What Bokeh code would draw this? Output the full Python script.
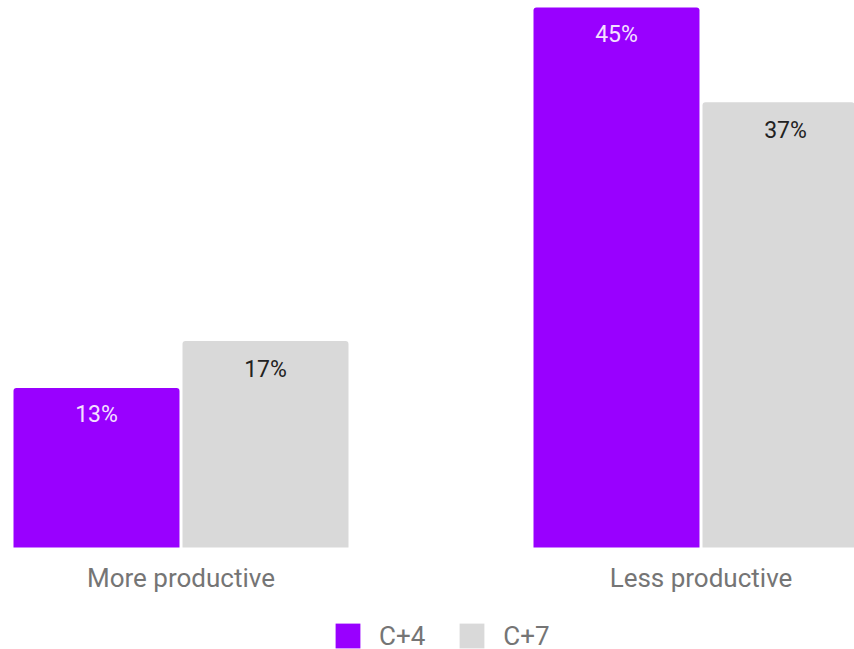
from bokeh.plotting import figure
from bokeh.models import ColumnDataSource, Range1d, Legend, LegendItem
from bokeh.transform import dodge
from bokeh.core.properties import value
from bokeh.embed import file_html
from bokeh.resources import INLINE

# ---- data ----
categories = ["More productive", "Less productive"]
series_names = ["C+4", "C+7"]
c4_values = [13.3, 45]
c7_values = [17.2, 37.1]
c4_labels = ["13%", "45%"]
c7_labels = ["17%", "37%"]

positions = list(range(len(categories)))
src = ColumnDataSource(dict(
    x=positions,
    cat=categories,
    base=[0] * len(categories),
    c4=c4_values,
    c7=c7_values,
    c4_label=c4_labels,
    c7_label=c7_labels,
))

PURPLE = "#9900ff"
GREY = "#d9d9d9"
FONT = "Roboto"

p = figure(width=854, height=649, output_backend="svg", toolbar_location=None,
           x_range=Range1d(-0.3471, 1.2952), y_range=Range1d(-8.5, 45.58),
           x_axis_location=None, y_axis_location=None,
           min_border_left=0, min_border_right=0, min_border_top=0,
           min_border_bottom=0)
p.outline_line_color = None
p.xgrid.visible = False
p.ygrid.visible = False
p.background_fill_color = "white"
p.border_fill_color = "white"

OFF = 0.1625
W = 0.3192
r1 = p.vbar(x=dodge("x", -OFF), top="c4", width=W, source=src,
            fill_color=PURPLE, line_color=None, border_radius=(3, 3, 0, 0))
r2 = p.vbar(x=dodge("x", OFF), top="c7", width=W, source=src,
            fill_color=GREY, line_color=None, border_radius=(3, 3, 0, 0))

p.text(x=dodge("x", -OFF), y="c4", text="c4_label", source=src,
       text_align="center", text_baseline="middle", y_offset=27,
       text_font=value(FONT), text_font_size="23px", text_color="#f4e0ff")
p.text(x=dodge("x", OFF), y="c7", text="c7_label", source=src,
       text_align="center", text_baseline="middle", y_offset=28,
       text_font=value(FONT), text_font_size="23px", text_color="#222222")

# category labels under each group
p.text(x="x", y="base", text="cat", source=src,
       text_align="center", text_baseline="middle", y_offset=31,
       text_font=value(FONT), text_font_size="26px", text_color="#757575")

legend = Legend(items=[LegendItem(label=series_names[0], renderers=[r1]),
                       LegendItem(label=series_names[1], renderers=[r2])],
                orientation="horizontal", location=(332, -2),
                glyph_width=31, glyph_height=31, label_height=31,
                label_standoff=16, spacing=31, padding=0, margin=0,
                border_line_color=None, background_fill_alpha=0,
                label_text_font=FONT, label_text_font_size="26px",
                label_text_color="#757575")
p.add_layout(legend, "center")

open("out.html", "w").write(file_html(p, INLINE))
